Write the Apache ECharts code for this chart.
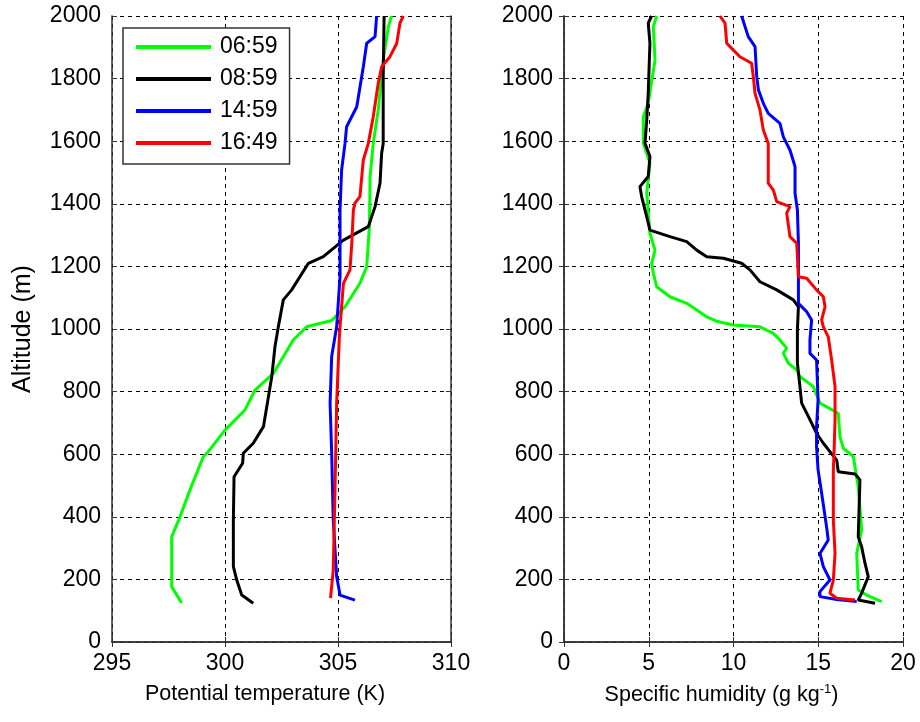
<!DOCTYPE html>
<html>
<head>
<meta charset="utf-8">
<script src="https://cdn.jsdelivr.net/npm/echarts@6/dist/echarts.min.js"></script>
<style>
  html, body { margin: 0; padding: 0; background: #fff; }
  #chart { width: 920px; height: 722px; }
</style>
</head>
<body>
<div id="chart"></div>
<script>
// Legend names (launch times)
const times = ['06:59', '08:59', '14:59', '16:49']
const colors = ['#00ff00', '#000000', '#0000ff', '#ff0000']

// Tick labels
const altTicks = [0, 200, 400, 600, 800, 1000, 1200, 1400, 1600, 1800, 2000]
const thetaTicks = [295, 300, 305, 310]
const humTicks = [0, 5, 10, 15, 20]

// Potential temperature profiles [K, m]
const theta0659 = [[298.08,125],[297.64,177],[297.64,336],[298.01,400],[298.45,486],[299.04,592],[299.26,608],[300.0,677],[300.88,741],[301.33,805],[302.14,858],[303.02,965],[303.61,1007],[304.72,1027],[305.31,1071],[305.97,1146],[306.27,1199],[306.39,1327],[306.42,1487],[306.56,1593],[306.78,1700],[307.0,1859],[307.23,1966],[307.37,2000]]
const theta0859 = [[301.25,124],[300.74,150],[300.52,198],[300.37,241],[300.37,390],[300.40,528],[300.78,571],[300.81,603],[301.25,635],[301.70,688],[301.85,752],[302.07,848],[302.21,943],[302.36,1007],[302.58,1093],[302.95,1125],[303.69,1210],[304.35,1231],[305.24,1284],[306.34,1327],[306.64,1391],[306.86,1466],[306.93,1561],[307.0,1593],[307.0,1806],[307.04,2000]]
const theta1459 = [[305.75,134],[305.09,150],[304.94,209],[304.79,390],[304.72,603],[304.65,763],[304.72,912],[304.94,1007],[305.09,1167],[305.09,1380],[305.16,1508],[305.31,1593],[305.38,1646],[305.83,1710],[306.12,1838],[306.27,1913],[306.64,1934],[306.71,2000]]
const theta1649 = [[304.67,140],[304.79,230],[304.87,496],[304.94,763],[305.06,975],[305.09,1007],[305.24,1146],[305.53,1189],[305.61,1274],[305.68,1380],[305.75,1402],[305.97,1423],[306.12,1540],[306.34,1593],[306.56,1678],[306.78,1785],[306.93,1838],[307.30,1870],[307.60,1913],[307.74,1977],[307.89,2000]]

// Specific humidity profiles [g/kg, m]
const q0659 = [[18.74,129],[17.86,150],[17.36,166],[17.27,283],[17.56,358],[17.36,496],[17.07,592],[16.48,619],[16.28,656],[16.18,731],[15.10,763],[14.71,816],[13.92,848],[13.73,869],[13.23,891],[12.94,923],[13.14,938],[12.74,965],[12.35,986],[11.56,1007],[9.99,1013],[9.0,1025],[8.42,1039],[7.24,1082],[6.25,1103],[5.47,1135],[5.27,1178],[5.17,1210],[5.37,1252],[5.07,1306],[4.88,1434],[5.07,1530],[4.68,1593],[4.68,1678],[4.97,1721],[5.37,1859],[5.27,1966],[5.47,2000]]
const q0859 = [[18.35,124],[17.36,134],[17.56,156],[17.95,209],[17.76,251],[17.56,304],[17.36,336],[17.46,518],[17.17,537],[16.18,544],[16.09,581],[15.69,608],[15.30,635],[14.90,667],[14.61,699],[14.32,731],[14.02,763],[13.92,816],[13.77,891],[13.77,997],[13.83,1071],[13.53,1093],[12.55,1125],[11.56,1151],[10.97,1189],[10.48,1210],[9.40,1226],[8.42,1231],[7.83,1252],[7.24,1279],[6.25,1295],[5.07,1316],[4.88,1359],[4.58,1423],[4.48,1455],[4.97,1487],[5.07,1551],[4.78,1593],[4.88,1668],[4.97,1753],[5.07,1913],[4.97,1977],[5.17,2000]]
const q1459 = [[17.27,129],[16.09,136],[15.10,145],[15.10,161],[15.69,198],[15.30,241],[15.10,283],[15.59,326],[15.49,368],[15.20,475],[14.99,550],[14.90,624],[14.90,688],[14.99,773],[14.90,901],[14.51,922],[14.51,965],[14.61,1029],[14.32,1055],[13.83,1082],[13.83,1274],[13.77,1380],[13.63,1434],[13.63,1519],[13.33,1572],[12.94,1614],[12.74,1657],[12.05,1689],[11.76,1721],[11.47,1764],[11.37,1806],[11.27,1902],[10.87,1934],[10.48,2000]]
const q1649 = [[17.17,134],[16.09,140],[15.69,156],[15.89,198],[15.99,283],[15.89,390],[15.89,550],[15.93,603],[15.99,709],[15.99,816],[15.79,901],[15.59,975],[15.30,1007],[15.20,1029],[15.40,1071],[15.30,1103],[14.90,1125],[14.32,1162],[13.83,1167],[13.73,1274],[13.33,1295],[13.14,1370],[13.33,1391],[12.55,1407],[12.35,1444],[12.05,1466],[12.05,1593],[11.76,1636],[11.56,1700],[11.27,1753],[11.17,1806],[11.07,1849],[10.38,1870],[9.99,1891],[9.60,1913],[9.50,1977],[9.20,2000]]

const thetaSets = [theta0659, theta0859, theta1459, theta1649]
const qSets = [q0659, q0859, q1459, q1649]

const font = 'Liberation Sans, Arial, sans-serif'
const gridLine = { show: true, lineStyle: { color: '#000', type: [4, 4], width: 1 } }

// x axis helper (bottom shows labels, top only ticks)
const makeX = (gridIndex, ticks, position, name, shift) => ({
  type: 'value',
  gridIndex,
  position,
  min: ticks[0],
  max: ticks[ticks.length - 1],
  interval: ticks[1] - ticks[0],
  axisLine: { show: true, lineStyle: { color: '#333', width: 1.5 } },
  axisTick: { show: true, inside: true, length: 5, lineStyle: { color: '#333' } },
  axisLabel: { show: position === 'bottom', color: '#000', fontFamily: font, fontSize: 23, margin: 10 },
  splitLine: position === 'bottom' ? gridLine : { show: false },
  name: name || '',
  nameLocation: 'middle',
  nameGap: 41,
  nameTextStyle: {
    color: '#000', fontFamily: font, fontSize: 21.5,
    padding: [0, shift || 0, 0, 0],
    rich: { sup: { fontSize: 13, verticalAlign: 'top', color: '#000', fontFamily: font, padding: [0, 0, 12, 0] } }
  }
})

const makeY = (gridIndex, position, name) => ({
  type: 'value',
  gridIndex,
  position,
  min: altTicks[0],
  max: altTicks[altTicks.length - 1],
  interval: altTicks[1] - altTicks[0],
  axisLine: { show: true, lineStyle: { color: '#333', width: 1.5 } },
  axisTick: { show: true, inside: true, length: 5, lineStyle: { color: '#333' } },
  axisLabel: { show: position === 'left', color: '#000', fontFamily: font, fontSize: 23, margin: 11, formatter: v => String(v) },
  splitLine: position === 'left' ? gridLine : { show: false },
  name: name || '',
  nameLocation: 'middle',
  nameGap: 76,
  nameTextStyle: { color: '#000', fontFamily: font, fontSize: 25 }
})

const series = []
times.forEach((t, i) => {
  series.push({
    name: t, type: 'line', xAxisIndex: 0, yAxisIndex: 0,
    data: thetaSets[i], showSymbol: false, animation: false,
    lineStyle: { color: colors[i], width: 3 }, itemStyle: { color: colors[i] }
  })
  series.push({
    name: t, type: 'line', xAxisIndex: 2, yAxisIndex: 2,
    data: qSets[i], showSymbol: false, animation: false,
    lineStyle: { color: colors[i], width: 3 }, itemStyle: { color: colors[i] }
  })
})

const chart = echarts.init(document.getElementById('chart'))
chart.setOption({
  backgroundColor: '#fff',
  animation: false,
  grid: [
    { left: 112, right: 469, top: 16, bottom: 80 },
    { left: 564, right: 17, top: 16, bottom: 80 }
  ],
  xAxis: [
    makeX(0, thetaTicks, 'bottom', 'Potential temperature (K)', 33),
    makeX(0, thetaTicks, 'top'),
    makeX(1, humTicks, 'bottom', 'Specific humidity (g kg{sup|-1})', 24),
    makeX(1, humTicks, 'top')
  ],
  yAxis: [
    makeY(0, 'left', 'Altitude (m)'),
    makeY(0, 'right'),
    makeY(1, 'left'),
    makeY(1, 'right')
  ],
  legend: {
    data: times,
    left: 123,
    top: 28,
    orient: 'vertical',
    icon: 'rect',
    itemWidth: 75,
    itemHeight: 4,
    itemGap: 8,
    padding: [7, 12, 9, 13],
    borderColor: '#333',
    borderWidth: 1.5,
    backgroundColor: '#fff',
    textStyle: { color: '#000', fontFamily: font, fontSize: 23, lineHeight: 24, padding: [0, 0, 0, 4] }
  },
  series
})
</script>
</body>
</html>
